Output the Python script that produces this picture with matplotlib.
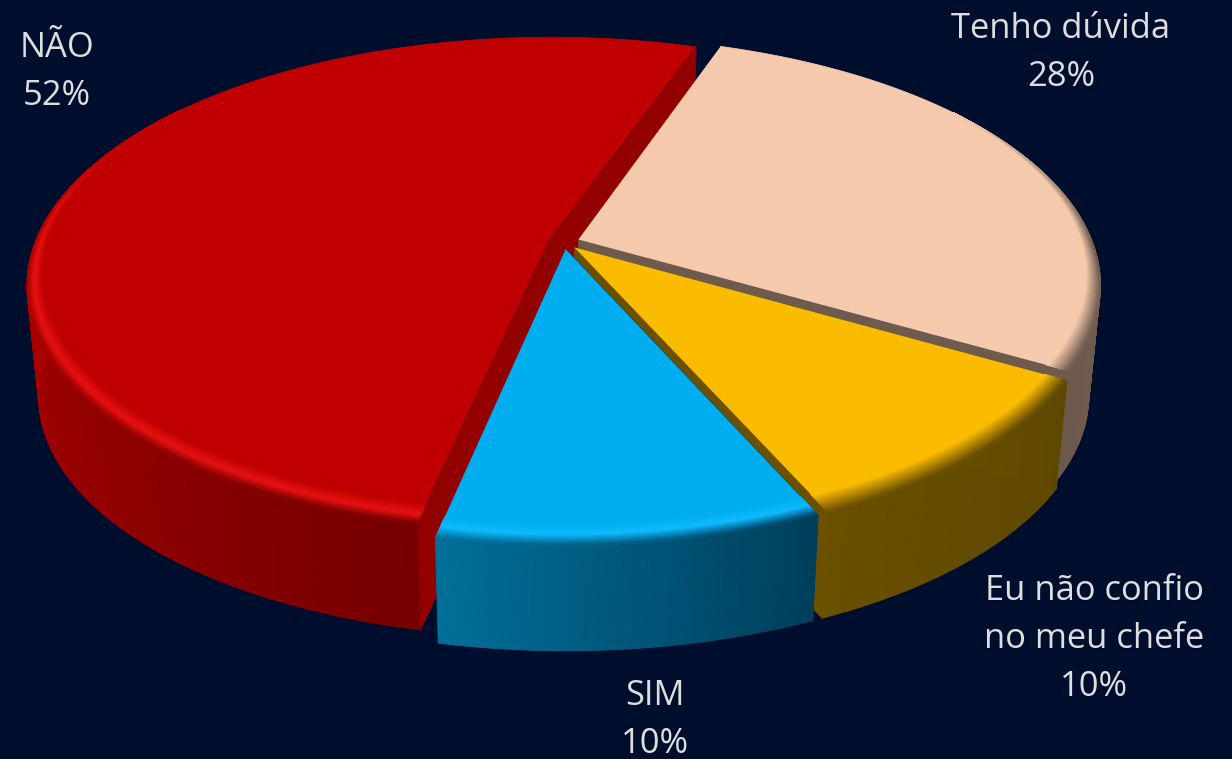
import numpy as np
import matplotlib
matplotlib.use("Agg")
import matplotlib.pyplot as plt
from matplotlib.collections import PolyCollection
from matplotlib.colors import to_rgb

labels = ["NÃO", "Tenho dúvida", "Eu não confio\nno meu chefe", "SIM"]
values = [52, 28, 10, 10]
top_colors = ["#C00000", "#F4C9AC", "#FBBC00", "#00AEEF"]
mid_colors = ["#E81212", "#F4C9AC", "#FBBC00", "#10BAFF"]
mid_pos = [0.55, 0.1, 0.1, 0.5]
wall_left = ["#AE0000", "#6E5B4E", "#6B5000", "#00709A"]
wall_right = ["#760000", "#6E5B4E", "#5E4800", "#003F5C"]
cut_colors = ["#930000", "#6E5B4E", "#6B5000", "#003F5C"]
label_pos = [(57, 72), (1061, 53), (1094, 639), (655, 720)]

bg = "#000E2D"
start_angle = 19.2  # degrees clockwise from the back of the pie
explode = 0.03
cx, cy = 564, 242
radius = 514
squash = 240
persp = 0.18
depth = 112
shrink = 0.978


def project(u, v, z=0.0):
    s = 1 / (1 - persp * v)
    x = radius * u * s
    y = squash * v * s
    scale = 1 - (1 - shrink) * z
    return cx + x * scale, cy + y * scale + depth * z


def disc(a, r, off):
    return off[0] + r * np.sin(a), off[1] - r * np.cos(a)


def mix(c1, c2, t):
    c1, c2 = np.array(to_rgb(c1)), np.array(to_rgb(c2))
    return tuple(c1 + (c2 - c1) * t)


def add_polys(ax, polys, colors, z, lw=0.6):
    ax.add_collection(PolyCollection(polys, facecolors=colors, edgecolors=colors if lw else "none",
                                     linewidths=lw, zorder=z))


def wall_shade(i, a, start, end):
    if i == 0:
        return np.clip((-np.pi / 2 - a) / (-np.pi / 2 - start), 0, 1)
    return (end - a) / (end - start)


def draw_slice(ax, start, end, i, z):
    mid = (start + end) / 2
    off = (explode * np.sin(mid), -explode * np.cos(mid))
    a = np.linspace(start, end, 180)
    u, v = disc(a, 1.0, off)
    x0, y0 = project(u, v)
    x1, y1 = project(u, v, 1.0)

    # flat cut faces first, the outer wall goes over them
    tip = project(off[0], off[1])
    tip_b = project(off[0], off[1], 1.0)
    for j in (0, -1):
        face = [tip, (x0[j], y0[j]), (x1[j], y1[j]), tip_b]
        add_polys(ax, [face], [cut_colors[i]], z)

    # outer wall, one strip per step so the shade can change along it
    polys, colors = [], []
    for k in range(len(a) - 1):
        if v[k] < -0.2 and v[k + 1] < -0.2:
            continue
        polys.append([(x0[k], y0[k]), (x0[k + 1], y0[k + 1]), (x1[k + 1], y1[k + 1]), (x1[k], y1[k])])
        colors.append(mix(wall_left[i], wall_right[i], wall_shade(i, a[k], start, end)))
    if polys:
        add_polys(ax, polys, colors, z + 1)

    # top
    top = [tip] + list(zip(x0, y0))
    add_polys(ax, [top], [top_colors[i]], z + 2, lw=0)
    back = v < -0.5
    ax.plot(x0[back], y0[back], color=top_colors[i], lw=0.6, zorder=z + 2)

    # bevel along the rim, wider towards the viewer
    steps = np.linspace(0, 1, 16)
    polys, colors = [], []
    for s0, s1 in zip(steps[:-1], steps[1:]):
        for k in range(len(a) - 1):
            w = np.clip((v[k] + 0.6) / 1.6, 0, 1) * 0.06
            if w <= 0:
                continue
            r0, r1 = 1 - w * (1 - s0), 1 - w * (1 - s1)
            p = []
            for aa, rr in ((a[k], r0), (a[k + 1], r0), (a[k + 1], r1), (a[k], r1)):
                uu, vv = disc(aa, rr, off)
                p.append(project(uu, vv))
            polys.append(p)
            edge = mix(wall_left[i], wall_right[i], wall_shade(i, a[k], start, end))
            fade = np.clip((v[k] + 0.6) / 0.6, 0, 1)
            sm = (s0 + s1) / 2
            if sm < mid_pos[i]:
                c = np.array(mix(top_colors[i], mid_colors[i], sm / mid_pos[i]))
            else:
                c = np.array(mix(mid_colors[i], edge, (sm - mid_pos[i]) / (1 - mid_pos[i])))
            c = np.array(to_rgb(top_colors[i])) * (1 - fade) + c * fade
            colors.append(tuple(c))
    if polys:
        add_polys(ax, polys, colors, z + 3)


fig = plt.figure(figsize=(12.32, 7.59), dpi=100, facecolor=bg)
ax = fig.add_axes([0, 0, 1, 1])
ax.set_xlim(0, 1232)
ax.set_ylim(759, 0)
ax.axis("off")

# NÃO runs anticlockwise from the start angle, the others clockwise
fracs = np.array(values) / sum(values) * 2 * np.pi
a0 = np.radians(start_angle)
spans = [(a0 - fracs[0], a0), (a0, a0 + fracs[1]),
         (a0 + fracs[1], a0 + fracs[1] + fracs[2]),
         (a0 + fracs[1] + fracs[2], a0 + fracs[1] + fracs[2] + fracs[3])]

for i, (s, e) in enumerate(spans):
    draw_slice(ax, s, e, i, 10 * (i + 1))

for lab, val, pos in zip(labels, values, label_pos):
    ax.text(pos[0], pos[1], f"{lab}\n{val}%", color="#DEDEDE", fontsize=24.8,
            family="Open Sans", ha="center", va="center", linespacing=1.53,
            zorder=100, clip_on=False)

fig.savefig("out.png", dpi=100, facecolor=bg)
